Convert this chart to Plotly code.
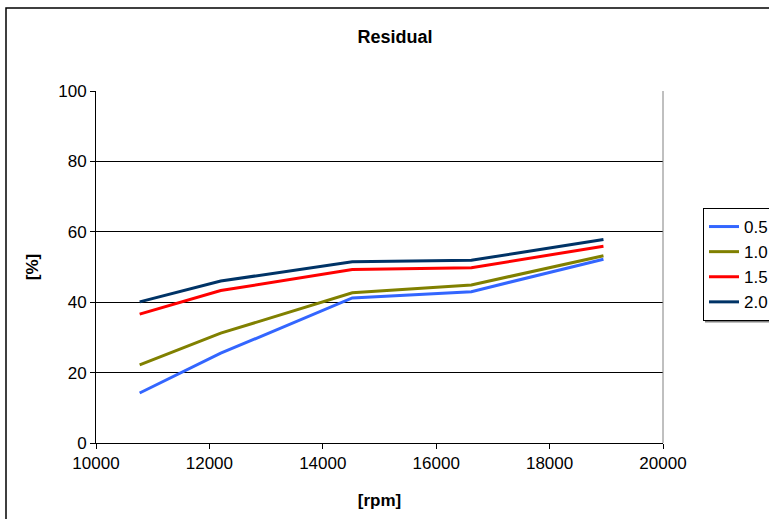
import plotly.graph_objects as go

rpm = [10770, 12200, 14520, 16620, 18950]
series_names = ["0.5", "1.0", "1.5", "2.0"]
v05 = [14.2, 25.5, 41.2, 43.0, 52.2]
v10 = [22.2, 31.2, 42.7, 44.9, 53.2]
v15 = [36.6, 43.3, 49.3, 49.8, 55.9]
v20 = [40.1, 46.0, 51.5, 51.9, 57.8]
colors = ["#3366FF", "#808000", "#FF0000", "#003366"]
values = [v05, v10, v15, v20]

fig = go.Figure()
for name, vals, c in zip(series_names, values, colors):
    fig.add_trace(go.Scatter(x=rpm, y=vals, mode="lines", name=name,
                             line=dict(color=c, width=3)))

font = "Liberation Sans, Arial, sans-serif"
L, R, T, B = 96, 663, 91, 443
W, H = 800, 519
pw, ph = R - L, B - T
fig.update_layout(
    width=W, height=H, autosize=False,
    margin=dict(l=L, r=W - R, t=T, b=H - B),
    paper_bgcolor="white", plot_bgcolor="white",
    font=dict(family=font, size=17, color="black"),
    title=dict(text="<b>Residual</b>", x=395 / W, xanchor="center",
               y=1 - 37 / H, yanchor="middle", font=dict(size=18)),
    xaxis=dict(range=[10000, 20000], tickvals=[10000, 12000, 14000, 16000, 18000, 20000],
               tickformat="d",
               showgrid=False, ticks="outside", ticklen=5, tickcolor="black",
               showline=True, linecolor="black", linewidth=1, mirror=False,
               title=dict(text="<b>[rpm]</b>", font=dict(size=17), standoff=21),
               zeroline=False),
    yaxis=dict(range=[0, 100], tickvals=[0, 20, 40, 60, 80, 100],
               showgrid=True, gridcolor="black", gridwidth=1,
               ticks="outside", ticklen=5, tickcolor="black",
               showline=True, linecolor="black", linewidth=1,
               title=dict(text="<b>[%]</b>", font=dict(size=17), standoff=15),
               zeroline=False),
    legend=dict(xref="container", yref="container",
                x=703 / W, y=1 - 208 / H, xanchor="left", yanchor="top",
                bordercolor="black", borderwidth=1, bgcolor="white",
                font=dict(size=17), tracegroupgap=0),
    showlegend=True,
)
# plot-area right border (gray)
fig.add_shape(type="line", xref="paper", yref="paper", x0=1, x1=1, y0=0, y1=1,
              line=dict(color="#808080", width=1))
# legend shadow
fig.add_shape(type="line", xref="paper", yref="paper",
              x0=(705 - L) / pw, x1=(W - L) / pw, y0=(B - 321.5) / ph, y1=(B - 321.5) / ph,
              line=dict(color="#808080", width=2))
# outer chart border
fig.add_shape(type="rect", xref="paper", yref="paper",
              x0=(6 - L) / pw, x1=2.0, y0=-1.0, y1=(B - 8) / ph,
              line=dict(color="black", width=1.5), layer="below")

fig.write_html("out.html",
               config={"displayModeBar": False, "responsive": False},
               post_script="document.body.style.margin='0px';document.body.style.overflow='hidden';")
